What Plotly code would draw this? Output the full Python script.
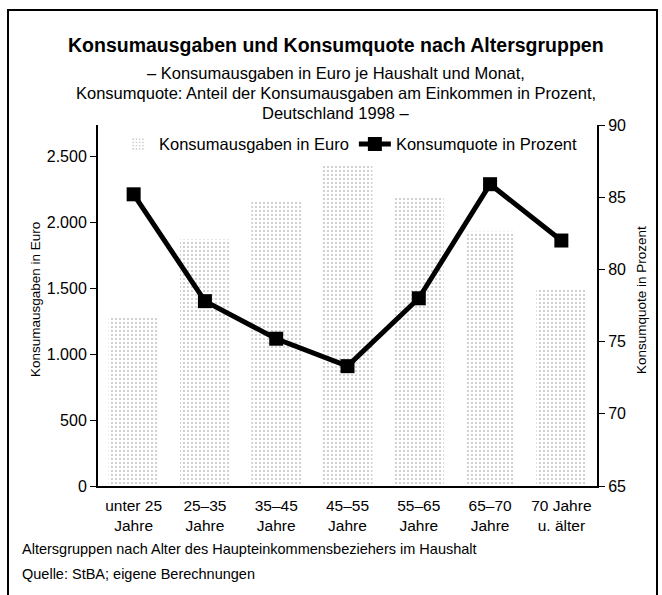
import plotly.graph_objects as go

categories = ["unter 25<br>Jahre", "25–35<br>Jahre", "35–45<br>Jahre", "45–55<br>Jahre",
              "55–65<br>Jahre", "65–70<br>Jahre", "70 Jahre<br>u. älter"]
ausgaben_euro = [1280, 1870, 2160, 2440, 2200, 1930, 1500]
quote_prozent = [85.2, 77.8, 75.2, 73.3, 78.0, 85.9, 82.0]
left_ticks = [0, 500, 1000, 1500, 2000, 2500]
right_ticks = [65, 70, 75, 80, 85, 90]

FONT = "Liberation Sans, Arial, sans-serif"

L, R, T, B = 98, 65, 125, 109
W, H = 662, 595
pw, ph = W - L - R, H - T - B

def px(x):
    return (x - L) / pw

def py(y):
    return (H - B - y) / ph

fig = go.Figure()
fig.add_trace(go.Bar(
    x=categories, y=ausgaben_euro, name="Konsumausgaben in Euro",
    marker=dict(color="white", line=dict(width=0),
                pattern=dict(shape=".", fgcolor="#8a8a8a", bgcolor="white",
                             size=4, solidity=0.22)),
    yaxis="y",
))
fig.add_trace(go.Scatter(
    x=categories, y=quote_prozent, name="Konsumquote in Prozent",
    mode="lines+markers", line=dict(color="black", width=5),
    marker=dict(symbol="square", size=14, color="black"),
    yaxis="y2",
))

fig.update_layout(
    width=W, height=H,
    margin=dict(l=L, r=R, t=T, b=B),
    paper_bgcolor="white", plot_bgcolor="white",
    separators=",.",
    font=dict(family=FONT, size=15, color="black"),
    bargap=0.30,
    showlegend=True,
    legend=dict(orientation="h", x=0.505, xanchor="center", y=0.995, yanchor="top",
                font=dict(family=FONT, size=16.5), bgcolor="rgba(0,0,0,0)",
                itemwidth=32, traceorder="normal"),
    xaxis=dict(showline=True, linecolor="black", linewidth=2, ticks="",
               tickfont=dict(family=FONT, size=15.5), showgrid=False,
               ticklabelstandoff=4),
    yaxis=dict(range=[0, 2740], tickvals=left_ticks, tickformat=",d",
               showline=True, linecolor="black", linewidth=2, ticks="outside",
               ticklen=6, tickcolor="black", showgrid=False, zeroline=False,
               tickfont=dict(family=FONT, size=16)),
    yaxis2=dict(range=[65, 90], tickvals=right_ticks, overlaying="y", side="right",
                showline=True, linecolor="black", linewidth=2, ticks="outside",
                ticklen=6, tickcolor="black", showgrid=False, zeroline=False,
                tickfont=dict(family=FONT, size=16)),
)

annotations = [
    dict(text="<b>Konsumausgaben und Konsumquote nach Altersgruppen</b>",
         x=px(336), y=py(45), font=dict(family=FONT, size=19.5)),
    dict(text="– Konsumausgaben in Euro je Haushalt und Monat,",
         x=px(336), y=py(73), font=dict(family=FONT, size=16.5)),
    dict(text="Konsumquote: Anteil der Konsumausgaben am Einkommen in Prozent,",
         x=px(336), y=py(93), font=dict(family=FONT, size=16.5)),
    dict(text="Deutschland 1998 –",
         x=px(336), y=py(113), font=dict(family=FONT, size=16.5)),
    dict(text="Konsumausgaben in Euro", textangle=-90,
         x=px(35), y=py(300), font=dict(family=FONT, size=13.5)),
    dict(text="Konsumquote in Prozent", textangle=-90,
         x=px(641), y=py(300), font=dict(family=FONT, size=13.5)),
    dict(text="Altersgruppen nach Alter des Haupteinkommensbeziehers im Haushalt",
         x=px(20), y=py(549), xanchor="left", font=dict(family=FONT, size=14.5)),
    dict(text="Quelle: StBA; eigene Berechnungen",
         x=px(20), y=py(574), xanchor="left", font=dict(family=FONT, size=14.5)),
]
for a in annotations:
    a.setdefault("xanchor", "center")
    a.update(xref="paper", yref="paper", showarrow=False, yanchor="middle")
fig.update_layout(annotations=annotations)

fig.add_shape(type="rect", xref="paper", yref="paper",
              x0=px(8), x1=px(657), y0=py(600), y1=py(10),
              line=dict(color="black", width=2), fillcolor="rgba(0,0,0,0)", layer="above")

fig.write_html("out.html", config={"displayModeBar": False},
               post_script="document.body.style.margin='0';document.body.style.padding='0';")
